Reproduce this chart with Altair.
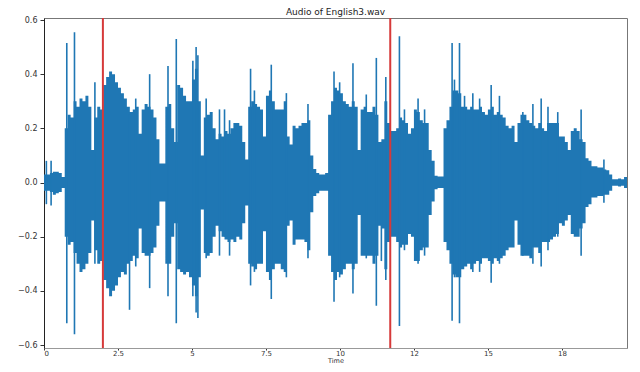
import altair as alt
import pandas as pd

# Waveform envelope, one value per 0.1 s bin (0 .. 19.7 s)
body_top = [
    0.03, 0.03, 0.035, 0.04, 0.04, 0.035, 0.02, 0.20, 0.25, 0.24,
    0.30, 0.28, 0.31, 0.30, 0.32, 0.28, 0.12, 0.24, 0.28, 0.27,
    0.36, 0.39, 0.41, 0.40, 0.37, 0.35, 0.33, 0.31, 0.28, 0.26,
    0.27, 0.28, 0.18, 0.27, 0.29, 0.28, 0.27, 0.24, 0.16, 0.07,
    0.07, 0.28, 0.29, 0.20, 0.15, 0.36, 0.35, 0.32, 0.30, 0.30,
    0.38, 0.42, 0.30, 0.10, 0.24, 0.25, 0.26, 0.20, 0.16, 0.18,
    0.17, 0.19, 0.18, 0.20, 0.22, 0.22, 0.21, 0.15, 0.085, 0.28,
    0.30, 0.29, 0.28, 0.27, 0.17, 0.32, 0.34, 0.30, 0.27, 0.27,
    0.27, 0.30, 0.17, 0.14, 0.21, 0.20, 0.21, 0.22, 0.22, 0.23,
    0.10, 0.05, 0.035, 0.03, 0.03, 0.035, 0.25, 0.30, 0.35, 0.34,
    0.33, 0.30, 0.29, 0.28, 0.30, 0.28, 0.12, 0.27, 0.28, 0.26,
    0.26, 0.28, 0.25, 0.15, 0.16, 0.30, 0.22, 0.19, 0.19, 0.20,
    0.24, 0.23, 0.22, 0.18, 0.20, 0.27, 0.26, 0.23, 0.22, 0.22,
    0.12, 0.08, 0.025, 0.022, 0.022, 0.20, 0.23, 0.28, 0.34, 0.34,
    0.33, 0.28, 0.28, 0.27, 0.28, 0.27, 0.27, 0.28, 0.26, 0.25,
    0.27, 0.28, 0.25, 0.26, 0.25, 0.24, 0.21, 0.20, 0.21, 0.15,
    0.22, 0.25, 0.25, 0.23, 0.22, 0.21, 0.20, 0.22, 0.20, 0.19,
    0.22, 0.22, 0.22, 0.22, 0.17, 0.17, 0.15, 0.12, 0.19, 0.20,
    0.19, 0.16, 0.15, 0.09, 0.08, 0.06, 0.06, 0.055, 0.055, 0.048,
    0.045, 0.03, 0.012, 0.012, 0.015, 0.012, 0.02,
]
body_bottom = [
    -0.03, -0.03, -0.035, -0.045, -0.04, -0.035, -0.02, -0.20, -0.23, -0.22,
    -0.26, -0.30, -0.33, -0.32, -0.30, -0.26, -0.14, -0.25, -0.30, -0.29,
    -0.36, -0.39, -0.42, -0.40, -0.38, -0.35, -0.33, -0.34, -0.30, -0.29,
    -0.27, -0.28, -0.17, -0.26, -0.27, -0.27, -0.26, -0.24, -0.16, -0.07,
    -0.07, -0.30, -0.30, -0.20, -0.15, -0.32, -0.33, -0.34, -0.33, -0.35,
    -0.38, -0.42, -0.35, -0.10, -0.26, -0.27, -0.26, -0.20, -0.16, -0.18,
    -0.20, -0.21, -0.22, -0.21, -0.22, -0.20, -0.21, -0.15, -0.085, -0.30,
    -0.31, -0.32, -0.30, -0.30, -0.18, -0.33, -0.36, -0.32, -0.30, -0.30,
    -0.32, -0.33, -0.16, -0.14, -0.23, -0.21, -0.21, -0.21, -0.22, -0.25,
    -0.11, -0.05, -0.04, -0.03, -0.03, -0.03, -0.27, -0.33, -0.36, -0.33,
    -0.34, -0.32, -0.30, -0.30, -0.32, -0.30, -0.12, -0.27, -0.27, -0.27,
    -0.27, -0.30, -0.27, -0.16, -0.17, -0.32, -0.22, -0.20, -0.20, -0.22,
    -0.24, -0.23, -0.23, -0.19, -0.20, -0.29, -0.29, -0.25, -0.24, -0.24,
    -0.12, -0.07, -0.025, -0.02, -0.02, -0.22, -0.25, -0.30, -0.34, -0.35,
    -0.35, -0.32, -0.31, -0.30, -0.32, -0.30, -0.29, -0.30, -0.28, -0.28,
    -0.29, -0.30, -0.28, -0.29, -0.28, -0.27, -0.25, -0.24, -0.24, -0.14,
    -0.23, -0.27, -0.27, -0.27, -0.28, -0.24, -0.24, -0.26, -0.22, -0.22,
    -0.22, -0.21, -0.20, -0.19, -0.15, -0.16, -0.14, -0.12, -0.19, -0.20,
    -0.20, -0.17, -0.15, -0.09, -0.08, -0.055, -0.055, -0.05, -0.05, -0.045,
    -0.045, -0.03, -0.012, -0.012, -0.015, -0.012, -0.02,
]
bin_width = 0.1
end_time = 19.7

# Isolated peaks (time in s, upper, lower)
spike_time = [0.08, 0.24, 0.77, 1.03, 1.72, 2.89, 3.10, 3.57, 4.19, 4.47,
              5.03, 5.14, 5.20, 5.48, 5.93, 6.10, 6.27, 6.98, 7.11, 7.68,
              8.19, 8.92, 9.80, 9.99, 10.44, 10.89, 11.23, 11.40, 11.55, 12.01,
              12.18, 12.64, 12.86, 13.79, 13.87, 14.04, 14.21, 14.49, 14.72, 15.11,
              15.39, 16.18, 16.52, 16.80, 17.03, 17.36, 18.15, 18.92]
spike_top = [0.08, 0.08, 0.515, 0.555, 0.37, 0.25, 0.31, 0.40, 0.43, 0.53,
             0.45, 0.50, 0.47, 0.31, 0.27, 0.27, 0.23, 0.42, 0.34, 0.435,
             0.33, 0.29, 0.41, 0.37, 0.44, 0.325, 0.46, 0.15, 0.39, 0.54,
             0.27, 0.31, 0.27, 0.515, 0.38, 0.515, 0.32, 0.33, 0.31, 0.36,
             0.32, 0.26, 0.29, 0.31, 0.28, 0.26, 0.27, 0.085]
spike_bottom = [-0.08, -0.085, -0.52, -0.56, -0.30, -0.47, -0.31, -0.39, -0.42, -0.52,
                -0.42, -0.48, -0.50, -0.28, -0.27, -0.20, -0.27, -0.38, -0.33, -0.43,
                -0.35, -0.28, -0.44, -0.35, -0.41, -0.28, -0.455, -0.29, -0.36, -0.53,
                -0.25, -0.30, -0.27, -0.51, -0.35, -0.52, -0.30, -0.33, -0.33, -0.37,
                -0.30, -0.27, -0.30, -0.31, -0.25, -0.20, -0.27, -0.075]

marker_times = [1.99, 11.70]

xtick_values = [0, 2.5, 5, 7.5, 10, 12.5, 15, 17.5]
xtick_labels = ["0", "2.5", "5", "7.5", "10", "12", "15", "18"]
ytick_values = [-0.6, -0.4, -0.2, 0.0, 0.2, 0.4, 0.6]

# ---- tables
n = len(body_top)
times = [round(i * bin_width, 2) for i in range(n)] + [end_time]
body = pd.DataFrame({
    "t": times,
    "top": body_top + [body_top[-1]],
    "bottom": body_bottom + [body_bottom[-1]],
})
spikes = pd.DataFrame({"t": spike_time, "top": spike_top, "bottom": spike_bottom})
markers = pd.DataFrame({"t": marker_times})

label_expr = ""
for v, lab in zip(xtick_values, xtick_labels):
    label_expr += f"datum.value == {v} ? '{lab}' : "
label_expr += "''"

blue = "#1f77b4"
font = "DejaVu Sans"
xscale = alt.Scale(domain=[0, end_time], nice=False, zero=False)
yscale = alt.Scale(domain=[-0.611, 0.6074], nice=False, zero=False)

xaxis = alt.Axis(values=xtick_values, labelExpr=label_expr, title="Time", grid=False,
                 tickSize=2, labelPadding=-1, labelFontSize=7, titleFontSize=6.5,
                 titleBaseline="alphabetic", titleY=14.3, titleFontWeight="normal",
                 domainColor="#999", tickColor="#333", labelColor="#333",
                 titleColor="#333", labelFont=font, titleFont=font)
yaxis = alt.Axis(values=ytick_values, format=".1f", title=None, grid=False,
                 tickSize=4, labelPadding=3, labelFontSize=8, domainColor="#222",
                 tickColor="#333", labelColor="#333", labelFont=font)

area = alt.Chart(body).mark_area(color=blue, interpolate="step-after", opacity=1).encode(
    x=alt.X("t:Q", scale=xscale, axis=xaxis),
    y=alt.Y("top:Q", scale=yscale, axis=yaxis),
    y2="bottom:Q",
)
spk = alt.Chart(spikes).mark_rule(color=blue, strokeWidth=1.6).encode(
    x="t:Q", y="top:Q", y2="bottom:Q"
)
red = alt.Chart(markers).mark_rule(color="#d63a3a", strokeWidth=2).encode(x="t:Q")

chart = (area + spk + red).properties(
    width=583, height=330,
    title=alt.TitleParams("Audio of English3.wav", fontSize=9, fontWeight="normal",
                          font=font, color="#222", offset=-0.8, frame="group"),
    autosize=alt.AutoSizeParams(type="none"),
    padding={"left": 36, "top": 10, "right": 5, "bottom": 16},
).configure_view(stroke="#777", strokeWidth=1)

chart.save("out.html", embed_options={"renderer": "svg", "actions": False})
